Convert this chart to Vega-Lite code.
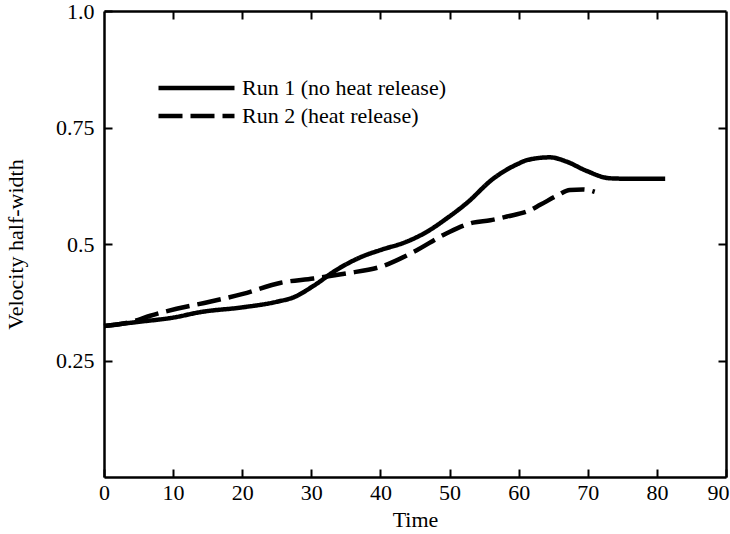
{
  "$schema": "https://vega.github.io/schema/vega-lite/v6.json",
  "width": 622,
  "height": 466,
  "autosize": {"type": "none"},
  "padding": {"left": 104, "top": 11, "right": 4, "bottom": 57},
  "background": "white",
  "config": {
    "view": {"stroke": null},
    "font": "Liberation Serif",
    "axis": {
      "domainColor": "black",
      "domainWidth": 2.5,
      "tickColor": "black",
      "tickWidth": 2,
      "tickSize": -8,
      "grid": false,
      "labelColor": "black",
      "labelFontSize": 22,
      "labelFont": "Liberation Serif",
      "titleColor": "black",
      "titleFont": "Liberation Serif",
      "titleFontSize": 22,
      "titleFontWeight": "normal"
    }
  },
  "data": {
    "values": [
      {"run": "Run 1 (no heat release)", "time": 0, "width": 0.324},
      {"run": "Run 1 (no heat release)", "time": 5, "width": 0.333},
      {"run": "Run 1 (no heat release)", "time": 10, "width": 0.342},
      {"run": "Run 1 (no heat release)", "time": 14, "width": 0.354},
      {"run": "Run 1 (no heat release)", "time": 20, "width": 0.364},
      {"run": "Run 1 (no heat release)", "time": 25, "width": 0.376},
      {"run": "Run 1 (no heat release)", "time": 27.5, "width": 0.386},
      {"run": "Run 1 (no heat release)", "time": 30.3, "width": 0.41},
      {"run": "Run 1 (no heat release)", "time": 33.6, "width": 0.444},
      {"run": "Run 1 (no heat release)", "time": 37.5, "width": 0.474},
      {"run": "Run 1 (no heat release)", "time": 40, "width": 0.487},
      {"run": "Run 1 (no heat release)", "time": 43.8, "width": 0.505},
      {"run": "Run 1 (no heat release)", "time": 46.7, "width": 0.526},
      {"run": "Run 1 (no heat release)", "time": 49.6, "width": 0.555},
      {"run": "Run 1 (no heat release)", "time": 52.5, "width": 0.588},
      {"run": "Run 1 (no heat release)", "time": 56.3, "width": 0.64},
      {"run": "Run 1 (no heat release)", "time": 59.9, "width": 0.672},
      {"run": "Run 1 (no heat release)", "time": 61.2, "width": 0.68},
      {"run": "Run 1 (no heat release)", "time": 64.5, "width": 0.686},
      {"run": "Run 1 (no heat release)", "time": 66.9, "width": 0.677},
      {"run": "Run 1 (no heat release)", "time": 69.8, "width": 0.657},
      {"run": "Run 1 (no heat release)", "time": 73.2, "width": 0.641},
      {"run": "Run 1 (no heat release)", "time": 76, "width": 0.64},
      {"run": "Run 1 (no heat release)", "time": 81.2, "width": 0.64},
      {"run": "Run 2 (heat release)", "time": 0, "width": 0.324},
      {"run": "Run 2 (heat release)", "time": 4, "width": 0.333},
      {"run": "Run 2 (heat release)", "time": 6.7, "width": 0.346},
      {"run": "Run 2 (heat release)", "time": 10.5, "width": 0.361},
      {"run": "Run 2 (heat release)", "time": 15.3, "width": 0.376},
      {"run": "Run 2 (heat release)", "time": 20.1, "width": 0.393},
      {"run": "Run 2 (heat release)", "time": 25.6, "width": 0.417},
      {"run": "Run 2 (heat release)", "time": 30.3, "width": 0.426},
      {"run": "Run 2 (heat release)", "time": 35.1, "width": 0.437},
      {"run": "Run 2 (heat release)", "time": 40, "width": 0.451},
      {"run": "Run 2 (heat release)", "time": 44.8, "width": 0.483},
      {"run": "Run 2 (heat release)", "time": 49.6, "width": 0.523},
      {"run": "Run 2 (heat release)", "time": 53.4, "width": 0.546},
      {"run": "Run 2 (heat release)", "time": 55.9, "width": 0.551},
      {"run": "Run 2 (heat release)", "time": 58.3, "width": 0.559},
      {"run": "Run 2 (heat release)", "time": 61.4, "width": 0.571},
      {"run": "Run 2 (heat release)", "time": 63.1, "width": 0.584},
      {"run": "Run 2 (heat release)", "time": 65.7, "width": 0.605},
      {"run": "Run 2 (heat release)", "time": 67.4, "width": 0.616},
      {"run": "Run 2 (heat release)", "time": 69.3, "width": 0.617},
      {"run": "Run 2 (heat release)", "time": 71, "width": 0.612}
    ]
  },
  "layer": [
    {
      "mark": {"type": "line", "color": "black", "strokeWidth": 4.5, "interpolate": "monotone"},
      "encoding": {
        "x": {
          "field": "time",
          "type": "quantitative",
          "scale": {"domain": [0, 90], "nice": false, "zero": false},
          "axis": {
            "orient": "bottom",
            "values": [0, 10, 20, 30, 40, 50, 60, 70, 80, 90],
            "title": "Time",
            "labelPadding": 13,
            "titlePadding": 6,
            "labelFlush": false,
            "labelAlign": {"condition": {"test": "datum.value === 90", "value": "right"}, "value": "center"},
            "labelOffset": {"condition": {"test": "datum.value === 90", "value": 3}, "value": 0}
          }
        },
        "y": {
          "field": "width",
          "type": "quantitative",
          "scale": {"domain": [0, 1], "nice": false},
          "axis": {
            "orient": "left",
            "values": [0.25, 0.5, 0.75, 1],
            "labelExpr": "datum.value === 1 ? '1.0' : format(datum.value, '.2~f')",
            "title": "Velocity half-width",
            "labelPadding": 18,
            "titlePadding": 28,
            "labelFlush": false
          }
        },
        "strokeDash": {
          "field": "run",
          "type": "nominal",
          "scale": {
            "domain": ["Run 1 (no heat release)", "Run 2 (heat release)"],
            "range": [[1, 0], [24, 8]]
          },
          "legend": {
            "orient": "none",
            "legendX": 52,
            "legendY": 63,
            "title": null,
            "padding": 0,
            "symbolType": "stroke",
            "symbolSize": 5776,
            "symbolStrokeWidth": 4.5,
            "symbolStrokeColor": "black",
            "labelFontSize": 22,
            "labelFont": "Liberation Serif",
            "labelColor": "black",
            "labelLimit": 0,
            "labelOffset": 5,
            "clipHeight": 28,
            "rowPadding": 0
          }
        }
      }
    },
    {
      "mark": {"type": "line", "opacity": 0},
      "encoding": {
        "x": {
          "field": "time",
          "type": "quantitative",
          "axis": {
            "orient": "top",
            "values": [10, 20, 30, 40, 50, 60, 70, 80],
            "labels": false,
            "title": null
          }
        },
        "y": {
          "field": "width",
          "type": "quantitative",
          "axis": {
            "orient": "right",
            "values": [0.25, 0.5, 0.75],
            "labels": false,
            "title": null
          }
        }
      }
    }
  ],
  "resolve": {"axis": {"x": "independent", "y": "independent"}}
}
